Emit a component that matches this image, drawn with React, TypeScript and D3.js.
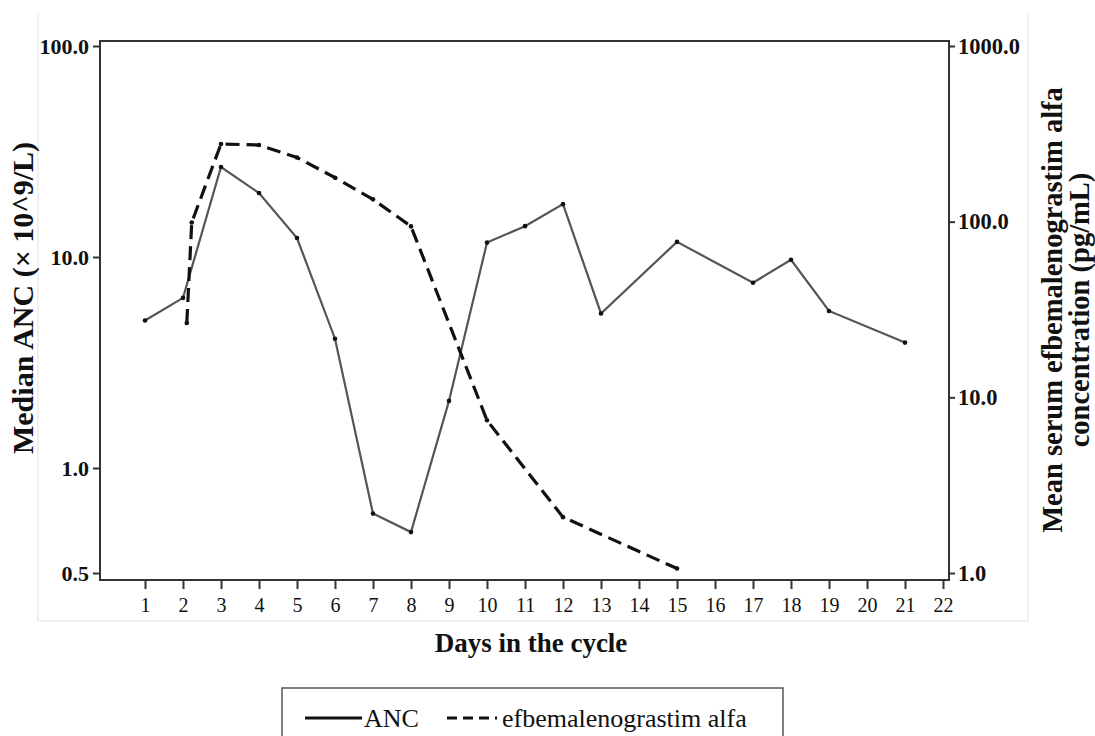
import { useEffect, useRef } from "react";
import * as d3 from "d3";

// ANC (median, x10^9/L) - left axis
const ANC_DAYS = [1, 2, 3, 4, 5, 6, 7, 8, 9, 10, 11, 12, 13, 15, 17, 18, 19, 21];
const ANC_VALUES = [5.0, 6.4, 26.7, 20.1, 12.3, 4.1, 0.74, 0.655, 2.08, 11.7, 14.0, 17.8, 5.4, 11.8, 7.55, 9.7, 5.55, 3.93];
// efbemalenograstim alfa (mean, pg/mL) - right axis
const PK_DAYS = [2.1, 2.23, 3, 4, 5, 6, 7, 8, 10, 12, 15];
const PK_VALUES = [26.5, 99, 277, 273, 232, 178, 134, 94, 7.4, 2.08, 1.06];

const X_TICKS = [1, 2, 3, 4, 5, 6, 7, 8, 9, 10, 11, 12, 13, 14, 15, 16, 17, 18, 19, 20, 21, 22];
const LEFT_TICKS = [0.5, 1, 10, 100];
const RIGHT_TICKS = [1, 10, 100, 1000];

const W = 1095;
const H = 736;
const FONT = "'Liberation Serif', 'Times New Roman', serif";

export default function App() {
    const svgRef = useRef<SVGSVGElement | null>(null);

    useEffect(() => {
        const svg = d3.select(svgRef.current);
        svg.selectAll("*").remove();

        const frame = { left: 100, right: 949, top: 41, bottom: 580 };

        const x = d3.scaleLinear().domain([1, 22]).range([145, 943]);
        // the left axis in the figure is piecewise: 0.5 sits a half decade under 1.0
        const yLeft = d3.scaleLog().domain([0.5, 1, 10, 100]).range([573, 468, 257, 46]);
        const yRight = d3.scaleLog().domain([1, 1000]).range([573, 46]);

        /* faint image border */
        const border = svg.append("g").attr("stroke", "#e6e6e6").attr("stroke-width", 1.2);
        border.append("line").attr("x1", 38).attr("x2", 38).attr("y1", 13).attr("y2", 621);
        border.append("line").attr("x1", 1028).attr("x2", 1028).attr("y1", 13).attr("y2", 621);
        border.append("line").attr("x1", 38).attr("x2", 1028).attr("y1", 621).attr("y2", 621);

        /* frame */
        svg.append("rect")
            .attr("x", frame.left)
            .attr("y", frame.top)
            .attr("width", frame.right - frame.left)
            .attr("height", frame.bottom - frame.top)
            .attr("fill", "none")
            .attr("stroke", "#333")
            .attr("stroke-width", 2);

        /* axes */
        const leftAxis = svg.append("g")
            .attr("transform", `translate(${frame.left},0)`)
            .call(d3.axisLeft(yLeft).tickValues(LEFT_TICKS).tickFormat((d: any) => (+d).toFixed(1)).tickSize(7).tickPadding(4));
        leftAxis.selectAll("text").attr("font-weight", "bold").attr("font-size", 22);

        const rightAxis = svg.append("g")
            .attr("transform", `translate(${frame.right},0)`)
            .call(d3.axisRight(yRight).tickValues(RIGHT_TICKS).tickFormat((d: any) => (+d).toFixed(1)).tickSize(6).tickPadding(3));
        rightAxis.selectAll("text").attr("font-weight", "bold").attr("font-size", 22.5);

        const bottomAxis = svg.append("g")
            .attr("transform", `translate(0,${frame.bottom + 1})`)
            .call(d3.axisBottom(x).tickValues(X_TICKS).tickFormat((d: any) => String(d)).tickSize(8).tickPadding(9));
        bottomAxis.selectAll("text").attr("font-size", 20);

        svg.selectAll(".domain").remove();
        svg.selectAll(".tick line").attr("stroke", "#333").attr("stroke-width", 2);
        svg.selectAll(".tick text").attr("fill", "#111").attr("font-family", FONT);

        /* lines */
        const ancData = ANC_DAYS.map((d, i) => [d, ANC_VALUES[i]] as [number, number]);
        const pkData = PK_DAYS.map((d, i) => [d, PK_VALUES[i]] as [number, number]);

        const ancLine = d3.line<[number, number]>().x(d => x(d[0])).y(d => yLeft(d[1]));
        const pkLine = d3.line<[number, number]>().x(d => x(d[0])).y(d => yRight(d[1]));

        svg.append("path")
            .attr("d", ancLine(ancData))
            .attr("fill", "none")
            .attr("stroke", "#555")
            .attr("stroke-width", 2.2);
        svg.append("path")
            .attr("d", pkLine(pkData))
            .attr("fill", "none")
            .attr("stroke", "#111")
            .attr("stroke-width", 3.2)
            .attr("stroke-dasharray", "14,7");

        svg.append("g").selectAll("circle")
            .data(ancData).enter().append("circle")
            .attr("cx", d => x(d[0])).attr("cy", d => yLeft(d[1]))
            .attr("r", 2.3).attr("fill", "#111");
        svg.append("g").selectAll("circle")
            .data(pkData).enter().append("circle")
            .attr("cx", d => x(d[0])).attr("cy", d => yRight(d[1]))
            .attr("r", 2.3).attr("fill", "#111");

        /* titles */
        const titles = svg.append("g").attr("font-family", FONT).attr("font-weight", "bold").attr("fill", "#111");
        titles.append("text")
            .attr("x", 531).attr("y", 652)
            .attr("font-size", 27)
            .attr("text-anchor", "middle")
            .text("Days in the cycle");
        titles.append("text")
            .attr("transform", "translate(33,298) rotate(-90)")
            .attr("font-size", 30)
            .attr("text-anchor", "middle")
            .text("Median ANC (\u00d7 10^9/L)");
        titles.append("text")
            .attr("transform", "translate(1062,310) rotate(-90)")
            .attr("font-size", 28.5)
            .attr("text-anchor", "middle")
            .text("Mean serum efbemalenograstim alfa");
        titles.append("text")
            .attr("transform", "translate(1089,310) rotate(-90)")
            .attr("font-size", 28.5)
            .attr("text-anchor", "middle")
            .text("concentration (pg/mL)");

        /* legend */
        const legend = svg.append("g");
        legend.append("rect")
            .attr("x", 282).attr("y", 688)
            .attr("width", 501).attr("height", 70)
            .attr("fill", "none").attr("stroke", "#555").attr("stroke-width", 1.5);
        legend.append("line")
            .attr("x1", 305).attr("x2", 362).attr("y1", 718).attr("y2", 718)
            .attr("stroke", "#111").attr("stroke-width", 3);
        legend.append("text")
            .attr("x", 364).attr("y", 727)
            .attr("font-family", FONT).attr("font-size", 26).attr("fill", "#111")
            .text("ANC");
        legend.append("line")
            .attr("x1", 447).attr("x2", 497).attr("y1", 718).attr("y2", 718)
            .attr("stroke", "#111").attr("stroke-width", 3)
            .attr("stroke-dasharray", "10,6");
        legend.append("text")
            .attr("x", 502).attr("y", 727)
            .attr("font-family", FONT).attr("font-size", 26).attr("fill", "#111")
            .text("efbemalenograstim alfa");
    }, []);

    return (
        <svg
            ref={svgRef}
            width={W}
            height={H}
            style={{ position: "absolute", left: 0, top: 0, background: "#fff" }}
        ></svg>
    );
}
